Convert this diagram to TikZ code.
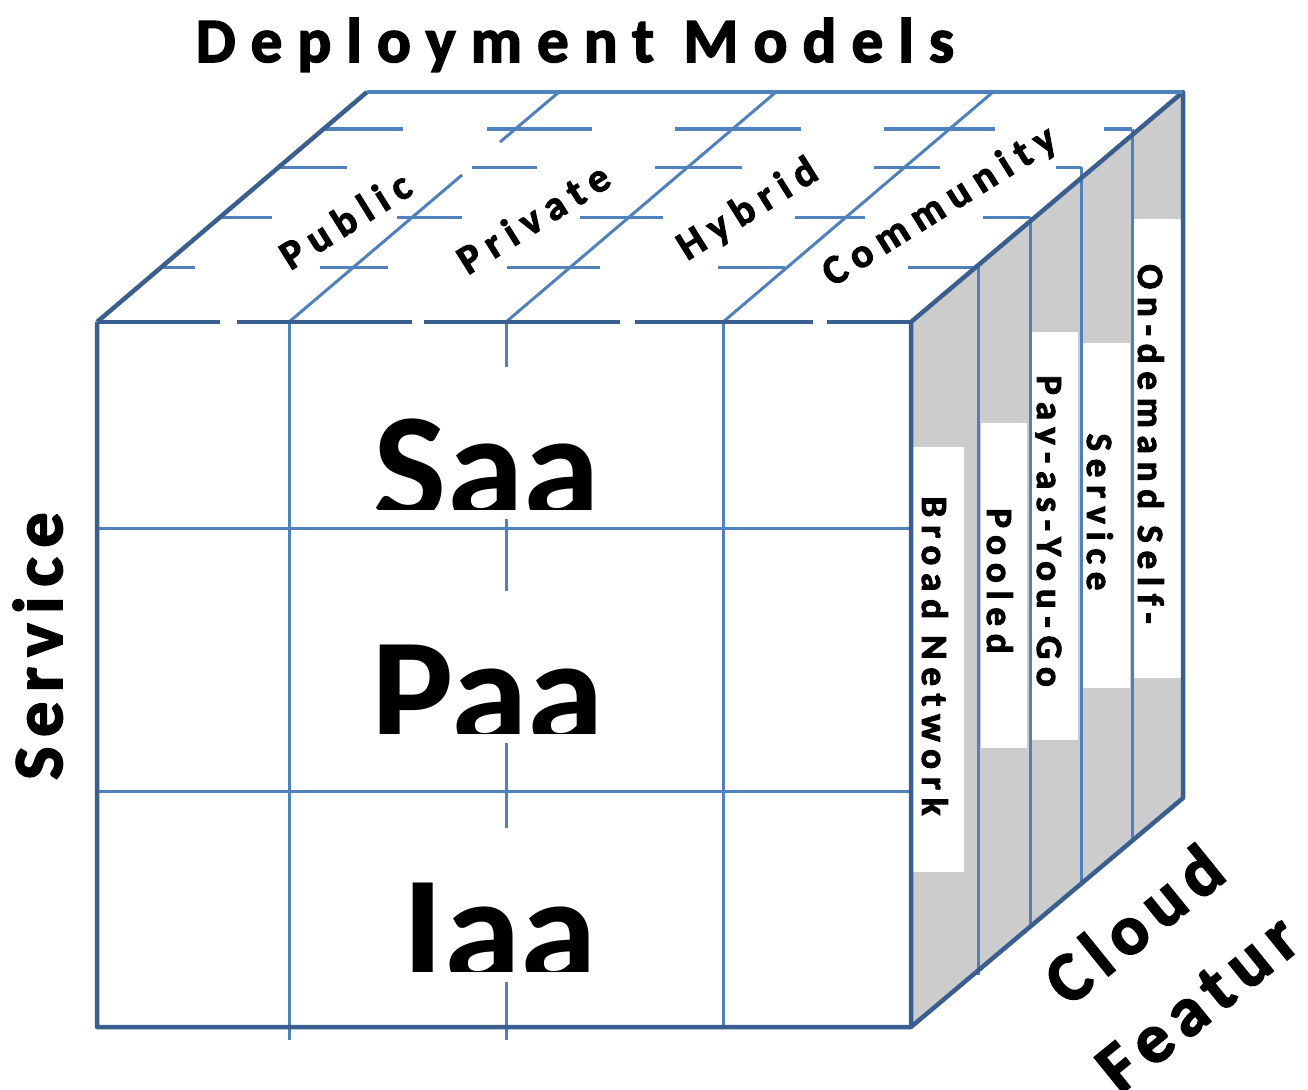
\documentclass[tikz,border=0pt]{standalone}
\usepackage{fontspec}
\setmainfont{Carlito}
\newfontfamily\trackfont[LetterSpace=21, BoldFeatures={FakeBold=2.5}]{Carlito}
\newfontfamily\titlefont[LetterSpace=24, BoldFeatures={FakeBold=2.5}]{Carlito}
\newfontfamily\widefont[LetterSpace=14, BoldFeatures={FakeBold=2.5}]{Carlito}
\definecolor{gridblue}{HTML}{4F81BD}
\definecolor{edgeblue}{HTML}{3A5F8E}
\definecolor{facegray}{HTML}{CCCCCC}
\tikzset{
  grid line/.style={draw=gridblue, line width=3pt},
  edge line/.style={draw=edgeblue, line width=4.5pt, line join=round},
  axis label/.style={inner sep=0pt, font=\titlefont\bfseries\fontsize{63}{100}\selectfont},
  side axis/.style={inner sep=0pt, font=\widefont\bfseries\fontsize{70}{100}\selectfont},
  top label/.style={inner sep=0pt, rotate=32, font=\trackfont\bfseries\fontsize{41}{44}\selectfont},
  side label/.style={inner sep=0pt, anchor=base, rotate=-90, font=\trackfont\bfseries\fontsize{37}{40}\selectfont},
  big label/.style={inner sep=0pt, anchor=base, font=\bfseries\fontsize{155}{160}\selectfont}
}
\begin{document}
\begin{tikzpicture}[x=1pt,y=-1pt]
\useasboundingbox (0,0) rectangle (1308,1089);
\coordinate (ftl) at (97,322);
\coordinate (ftr) at (911,322);
\coordinate (fbr) at (911,1027);
\coordinate (fbl) at (97,1027);
\coordinate (btl) at (367,92);
\coordinate (btr) at (1183,92);
\coordinate (bbr) at (1183,798);
\fill [facegray] (ftr) -- (btr) -- (bbr) -- (fbr) -- cycle;
\fill [white] (913,447) rectangle (964,872);
\fill [white] (981,423) rectangle (1027,748);
\fill [white] (1032,332) rectangle (1078,740);
\fill [white] (1083,343) rectangle (1130,688);
\fill [white] (1134,219) rectangle (1182,678);
\draw [grid line] (978,267) -- (978,975);
\draw [grid line] (1030,217) -- (1030,927);
\draw [grid line] (1081,167) -- (1081,882);
\draw [grid line] (1132,129) -- (1132,841);
\draw [grid line] (162,267) -- (195,267);
\draw [grid line] (320,267) -- (388,267);
\draw [grid line] (507,267) -- (600,267);
\draw [grid line] (718,267) -- (785,267);
\draw [grid line] (908,267) -- (978,267);
\draw [grid line] (220,217) -- (272,217);
\draw [grid line] (397,217) -- (462,217);
\draw [grid line] (580,217) -- (663,217);
\draw [grid line] (795,217) -- (865,217);
\draw [grid line] (983,217) -- (1030,217);
\draw [grid line] (278,167) -- (347,167);
\draw [grid line] (472,167) -- (537,167);
\draw [grid line] (655,167) -- (742,167);
\draw [grid line] (874,167) -- (940,167);
\draw [grid line] (1056,167) -- (1081,167);
\draw [grid line] (325,129) -- (403,129);
\draw [grid line] (487,129) -- (592,129);
\draw [grid line] (675,129) -- (801,129);
\draw [grid line] (884,129) -- (995,129);
\draw [grid line] (1104,129) -- (1132,129);
\draw [grid line] (289,322) -- (462,175);
\draw [grid line] (500,142) -- (559,92);
\draw [grid line] (506,322) -- (776,92);
\draw [grid line] (723,322) -- (993,92);
\draw [grid line] (289,322) -- (289,1040);
\draw [grid line] (506,322) -- (506,1040);
\draw [grid line] (723,322) -- (723,1027);
\draw [grid line] (97,528) -- (911,528);
\draw [grid line] (97,791) -- (911,791);
\fill [white] (370,367) rectangle (610,519);
\fill [white] (370,591) rectangle (610,743);
\fill [white] (370,828) rectangle (610,982);
\begin{scope}
\clip (370,367) rectangle (610,509);
\node [big label] (saa) at (487,520) {Saa};
\end{scope}
\begin{scope}
\clip (370,591) rectangle (610,733);
\node [big label] (paa) at (488,745) {Paa};
\end{scope}
\begin{scope}
\clip (370,828) rectangle (610,971);
\node [big label] (iaa) at (500,983) {Iaa};
\end{scope}
\draw [edge line] (ftl) -- (fbl) -- (fbr) -- (ftr) -- (btr) -- (bbr) -- (fbr);
\draw [edge line] (ftl) -- (btl);
\draw [grid line, line width=3.5pt] (btl) -- (btr);
\draw [edge line] (ftl) -- (220,322);
\draw [edge line] (237,322) -- (412,322);
\draw [edge line] (424,322) -- (620,322);
\draw [edge line] (635,322) -- (813,322);
\draw [edge line] (827,322) -- (ftr);
\node [axis label, anchor=base] (deploy) at (575,62) {Deployment Models};
\node [side axis, anchor=base, rotate=90] (service) at (62,646) {Service};
\node [side axis, rotate=39, align=center] (cloud) at (1165,963) {Cloud\\Featur};
\node [top label] (public) at (345,220) {Public};
\node [top label] (private) at (533,218) {Private};
\node [top label] (hybrid) at (748,210) {Hybrid};
\node [top label] (community) at (940,207) {Community};
\node [side label] (broad) at (922,656) {Broad Network};
\node [side label] (pooled) at (987,581) {Pooled};
\begin{scope}
\clip (1035,332) rectangle (1078,740);
\node [side label] (payg) at (1037,531) {Pay-as-You-Go};
\end{scope}
\node [side label] (service2) at (1087,512) {Service};
\node [side label] (ondemand) at (1138,444) {On-demand Self-};
\end{tikzpicture}
\end{document}
